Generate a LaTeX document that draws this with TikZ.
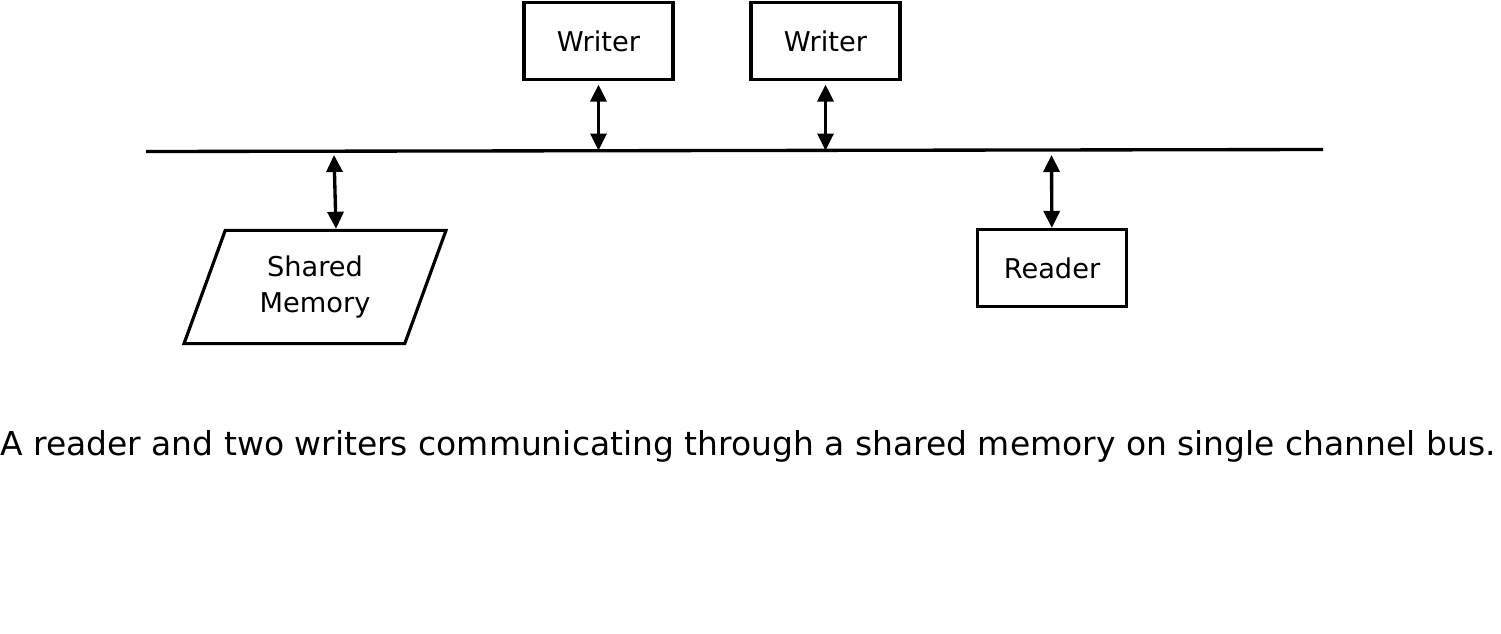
\documentclass[tikz,border=0pt]{standalone}
\usepackage{fontspec}
\setmainfont{DejaVu Sans}
\usetikzlibrary{arrows.meta,calc,shapes.geometric}
\tikzset{% 
  unit box/.style={%
    draw,
    line width=1.8pt,
    minimum width=2.98cm,
    minimum height=1.54cm,
    font=\fontsize{15.5}{21}\selectfont
  }
}
\tikzset{% 
  bus link/.style={%
    line width=1.9pt,
    {Triangle[length=0.34cm,width=0.32cm]}-{Triangle[length=0.34cm,width=0.32cm]}
  }
}

\begin{document}
\begin{tikzpicture}[x=0.02cm,y=-0.02cm]
  \useasboundingbox (0,0) rectangle (1501,633);
  \node [unit box] (writerA) at (598.5, 41) {Writer};
  \node [unit box] (writerB) at (825.5, 41) {Writer};
  \node [unit box] (reader) at (1052, 268) {Reader};
  \node [unit box, trapezium, trapezium left angle=70, trapezium right angle=110,
    trapezium stretches body, minimum width=5.24cm, minimum height=0pt,
    inner ysep=0.5cm, align=center] (memory) at (315, 287) {Shared\\Memory};
  \coordinate (busL) at (146, 151.5);
  \coordinate (busR) at (1323, 149.5);
  \coordinate (busA) at (598.5, 150.5);
  \coordinate (busB) at (825.5, 150.5);
  \coordinate (busM) at (334, 155);
  \coordinate (busD) at (1051.5, 155);
  \draw [line width=1.9pt] (busL) -- (busR);
  \draw [bus link, shorten <=2pt] (writerA) -- (busA);
  \draw [bus link, shorten <=2pt] (writerB) -- (busB);
  \draw [bus link] (busM) -- ($(memory.north)+(21,0)$);
  \draw [bus link] (busD) -- (reader);
  \node [anchor=base, font=\fontsize{18.75}{22}\selectfont]
    (caption) at (748, 455) {A reader and two writers communicating through a shared memory on single channel bus.};
\end{tikzpicture}
\end{document}
